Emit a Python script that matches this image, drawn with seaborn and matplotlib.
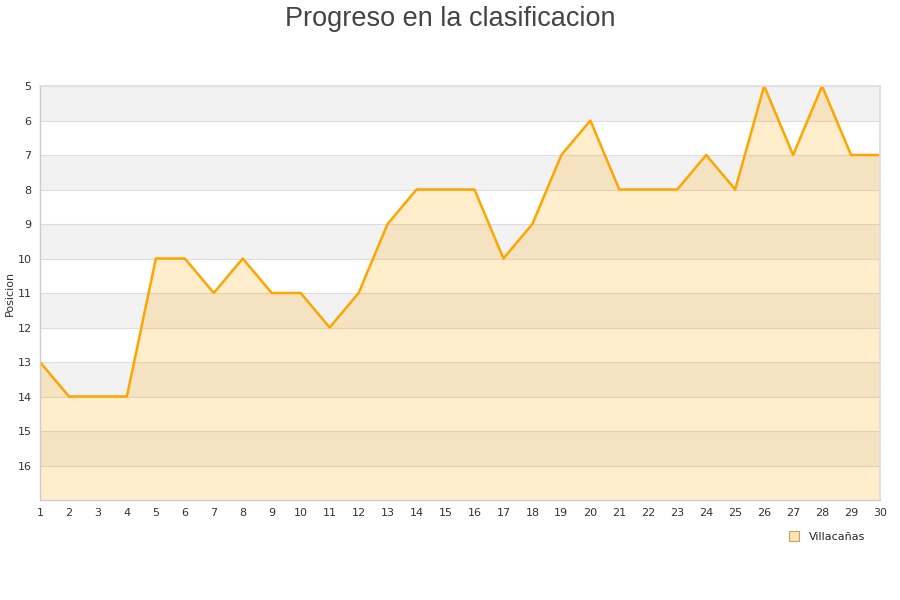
import matplotlib
matplotlib.use("Agg")
import matplotlib.pyplot as plt
import seaborn as sns
import pandas as pd
from matplotlib.lines import Line2D

# datos
jornadas = list(range(1, 31))
posicion = [13, 14, 14, 14, 10, 10, 11, 10, 11, 11, 12, 11, 9, 8, 8, 8,
            10, 9, 7, 6, 8, 8, 8, 7, 8, 5, 7, 5, 7, 7]
y_ticks = list(range(5, 17))
equipo = "Villacañas"

sns.set_theme(style="white")
plt.rcParams['font.family'] = ['DejaVu Sans']

df = pd.DataFrame({"Jornada": jornadas, "Posicion": posicion})

fig = plt.figure(figsize=(9, 6), dpi=100)
ax = fig.add_axes([40 / 900, 100 / 600, 840 / 900, 414 / 600])

# bandas alternas
for i, lo in enumerate(range(5, 17)):
    if i % 2 == 0:
        ax.axhspan(lo, lo + 1, color="#f2f2f2", zorder=0, lw=0)
for t in range(6, 17):
    ax.axhline(t, color="#dddddd", lw=0.8, zorder=0.5)

ax.fill_between(df["Jornada"], df["Posicion"], 17, color="#ffa500", alpha=0.2,
                lw=0, zorder=1)
sns.lineplot(data=df, x="Jornada", y="Posicion", color="#ffa500", lw=1.8,
             ax=ax, zorder=2)

ax.set_xlim(1, 30)
ax.set_ylim(17, 5)
ax.set_xticks(jornadas)
ax.set_yticks(y_ticks)
ax.tick_params(axis="both", labelsize=8, colors="#333333", length=0, pad=6)
ax.set_xlabel("")
ax.set_ylabel("Posicion", fontsize=8, color="#333333", labelpad=2)
for s in ["left", "bottom"]:
    ax.spines[s].set_color("#cccccc")
    ax.spines[s].set_linewidth(1)
for s in ["top", "right"]:
    ax.spines[s].set_color("#dddddd")

fig.suptitle("Progreso en la clasificacion", fontsize=19.5, color="#444444", y=0.99,
             family=["Liberation Sans", "DejaVu Sans"])

handle = Line2D([], [], marker="s", ls="", markersize=7,
                markerfacecolor="#ffe4b5", markeredgecolor="#c8a060",
                markeredgewidth=0.8)
fig.legend([handle], [equipo], loc="center", bbox_to_anchor=(824 / 900, 1 - 537 / 600),
           frameon=False, fontsize=8, handletextpad=0.4)

fig.savefig("out.png", dpi=100)
